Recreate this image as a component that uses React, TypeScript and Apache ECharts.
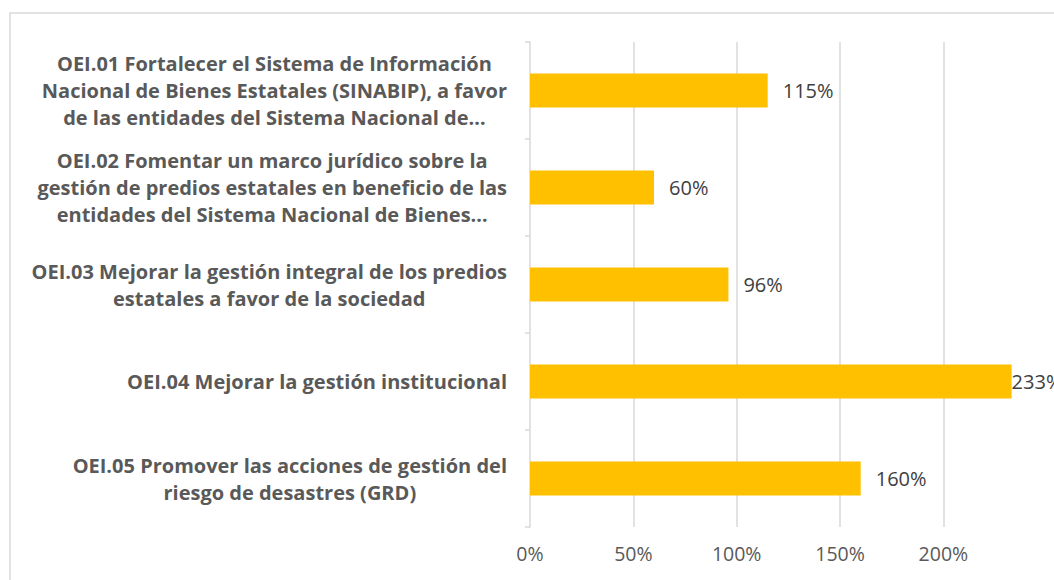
import React, { useEffect, useRef } from "react";
import * as echarts from "echarts";

const categories: string[] = [
  "OEI.01 Fortalecer el Sistema de Información\nNacional de Bienes Estatales (SINABIP), a favor\nde las entidades del Sistema Nacional de…",
  "OEI.02 Fomentar un marco jurídico sobre la\ngestión de predios estatales en beneficio de las\nentidades del Sistema Nacional de Bienes…",
  "OEI.03 Mejorar la gestión integral de los predios\nestatales a favor de la sociedad",
  "OEI.04 Mejorar la gestión institucional",
  "OEI.05 Promover las acciones de gestión del\nriesgo de desastres (GRD)",
];
const values: number[] = [115, 60, 96, 233, 160];
const gridTicks: number[] = [0, 50, 100, 150, 200];
const xMax = 233;

export default function App() {
  const ref = useRef<HTMLDivElement>(null);
  useEffect(() => {
    if (!ref.current) return;
    const chart = echarts.init(ref.current, undefined, { renderer: "svg" });
    chart.setOption({
      animation: false,
      backgroundColor: "#ffffff",
      graphic: [
        {
          type: "rect",
          shape: { x: 10, y: 13, width: 1200, height: 700 },
          style: { fill: "none", stroke: "#d9d9d9", lineWidth: 1.5 },
          silent: true,
          z: 0,
        },
      ],
      grid: { left: 530, top: 42, right: 42.4, bottom: 53, containLabel: false },
      xAxis: {
        type: "value",
        min: 0,
        max: xMax,
        interval: 50,
        axisLine: { show: false },
        axisTick: { show: false },
        splitLine: { show: false },
        axisLabel: {
          margin: 16,
          color: "#595959",
          fontFamily: "Open Sans",
          fontSize: 19.5,
          formatter: (v: number) => (gridTicks.indexOf(v) >= 0 ? v + "%" : ""),
        },
      },
      yAxis: {
        type: "category",
        inverse: true,
        data: categories,
        axisLine: { show: true, lineStyle: { color: "#d9d9d9", width: 1.5 } },
        axisTick: { show: true, length: 5, lineStyle: { color: "#d9d9d9", width: 1.5 } },
        axisLabel: {
          margin: 23,
          formatter: (v: string) =>
            v
              .split("\n")
              .map((l) => "{c|" + l + "}")
              .join("\n"),
          rich: {
            c: {
              align: "center",
              fontFamily: "Open Sans",
              fontWeight: "bold",
              fontSize: 20,
              color: "#595959",
              lineHeight: 27,
            },
          },
        },
      },
      series: [
        {
          type: "bar",
          data: values.map((v) =>
            v >= xMax ? { value: v, label: { distance: 0 } } : v
          ),
          barCategoryGap: "65%",
          itemStyle: { color: "#FFC000" },
          label: {
            show: true,
            position: "right",
            distance: 15,
            formatter: (p: any) => p.value + "%",
            color: "#404040",
            fontFamily: "Open Sans",
            fontSize: 20,
          },
          markLine: {
            silent: true,
            symbol: "none",
            z: 1,
            label: { show: false },
            lineStyle: { color: "#d9d9d9", type: "solid", width: 1.5 },
            data: gridTicks.filter((t) => t > 0).map((t) => ({ xAxis: t })),
          },
        },
      ],
    });
    return () => chart.dispose();
  }, []);
  return (
    <div
      ref={ref}
      style={{ position: "fixed", left: 0, top: 0, width: 1054, height: 580 }}
    />
  );
}
